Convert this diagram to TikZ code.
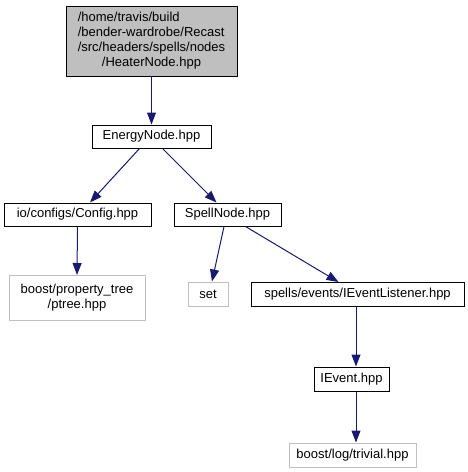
\documentclass[tikz,border=0pt]{standalone}
\usepackage{fontspec}
\setmainfont{Liberation Sans}
\usetikzlibrary{arrows.meta}
\definecolor{edgeblue}{HTML}{191970}
\definecolor{rootgray}{HTML}{BFBFBF}
\definecolor{extgray}{HTML}{C0C0C0}
\tikzset{
  box/.style={draw=black, line width=1pt, inner sep=0pt, align=center, font=\fontsize{13}{15}\selectfont},
  extbox/.style={box, draw=extgray},
  dep/.style={draw=edgeblue, line width=1pt, -{Triangle[length=12pt,width=9pt]}},
}
\begin{document}
\begin{tikzpicture}[x=1pt,y=-1pt]
\useasboundingbox (0,0) rectangle (468,472);
\node[box, fill=rootgray, minimum width=171pt, minimum height=70pt] (root) at (151.5,41) {\begin{tabular}{@{}l@{}}/home/travis/build\\/bender-wardrobe/Recast\\/src/headers/spells/nodes\\\multicolumn{1}{@{}c@{}}{/HeaterNode.hpp}\end{tabular}};
\node[box, minimum width=119pt, minimum height=23pt] (energy) at (151.5,136.5) {EnergyNode.hpp};
\node[box, minimum width=147pt, minimum height=23pt] (config) at (77.5,214.5) {io/configs/Config.hpp};
\node[box, minimum width=107pt, minimum height=23pt] (spell) at (227.5,214.5) {SpellNode.hpp};
\node[extbox, minimum width=136pt, minimum height=45pt] (ptree) at (77,298) {boost/property\_tree\\/ptree.hpp};
\node[extbox, minimum width=40pt, minimum height=24pt] (set) at (208,294) {set};
\node[box, minimum width=213pt, minimum height=24pt] (iel) at (357.5,294.5) {spells/events/IEventListener.hpp};
\node[box, minimum width=75pt, minimum height=24pt] (ievent) at (351.5,379) {IEvent.hpp};
\node[extbox, minimum width=127pt, minimum height=24pt] (trivial) at (352.5,455) {boost/log/trivial.hpp};

\draw[dep] (root.south) -- (energy.north);
\draw[dep] ([xshift=-12pt]energy.south) -- ([xshift=12.5pt]config.north);
\draw[dep] ([xshift=11pt]energy.south) -- ([xshift=-11pt]spell.north);
\draw[dep] (config.south) -- (ptree.north);
\draw[dep] ([xshift=-3.5pt]spell.south) -- ([xshift=4pt]set.north);
\draw[dep] ([xshift=18pt]spell.south) -- ([xshift=-19pt]iel.north);
\draw[dep] ([xshift=-1.5pt]iel.south) -- ([xshift=4.5pt]ievent.north);
\draw[dep] ([xshift=4.5pt]ievent.south) -- ([xshift=3.5pt]trivial.north);
\end{tikzpicture}
\end{document}
